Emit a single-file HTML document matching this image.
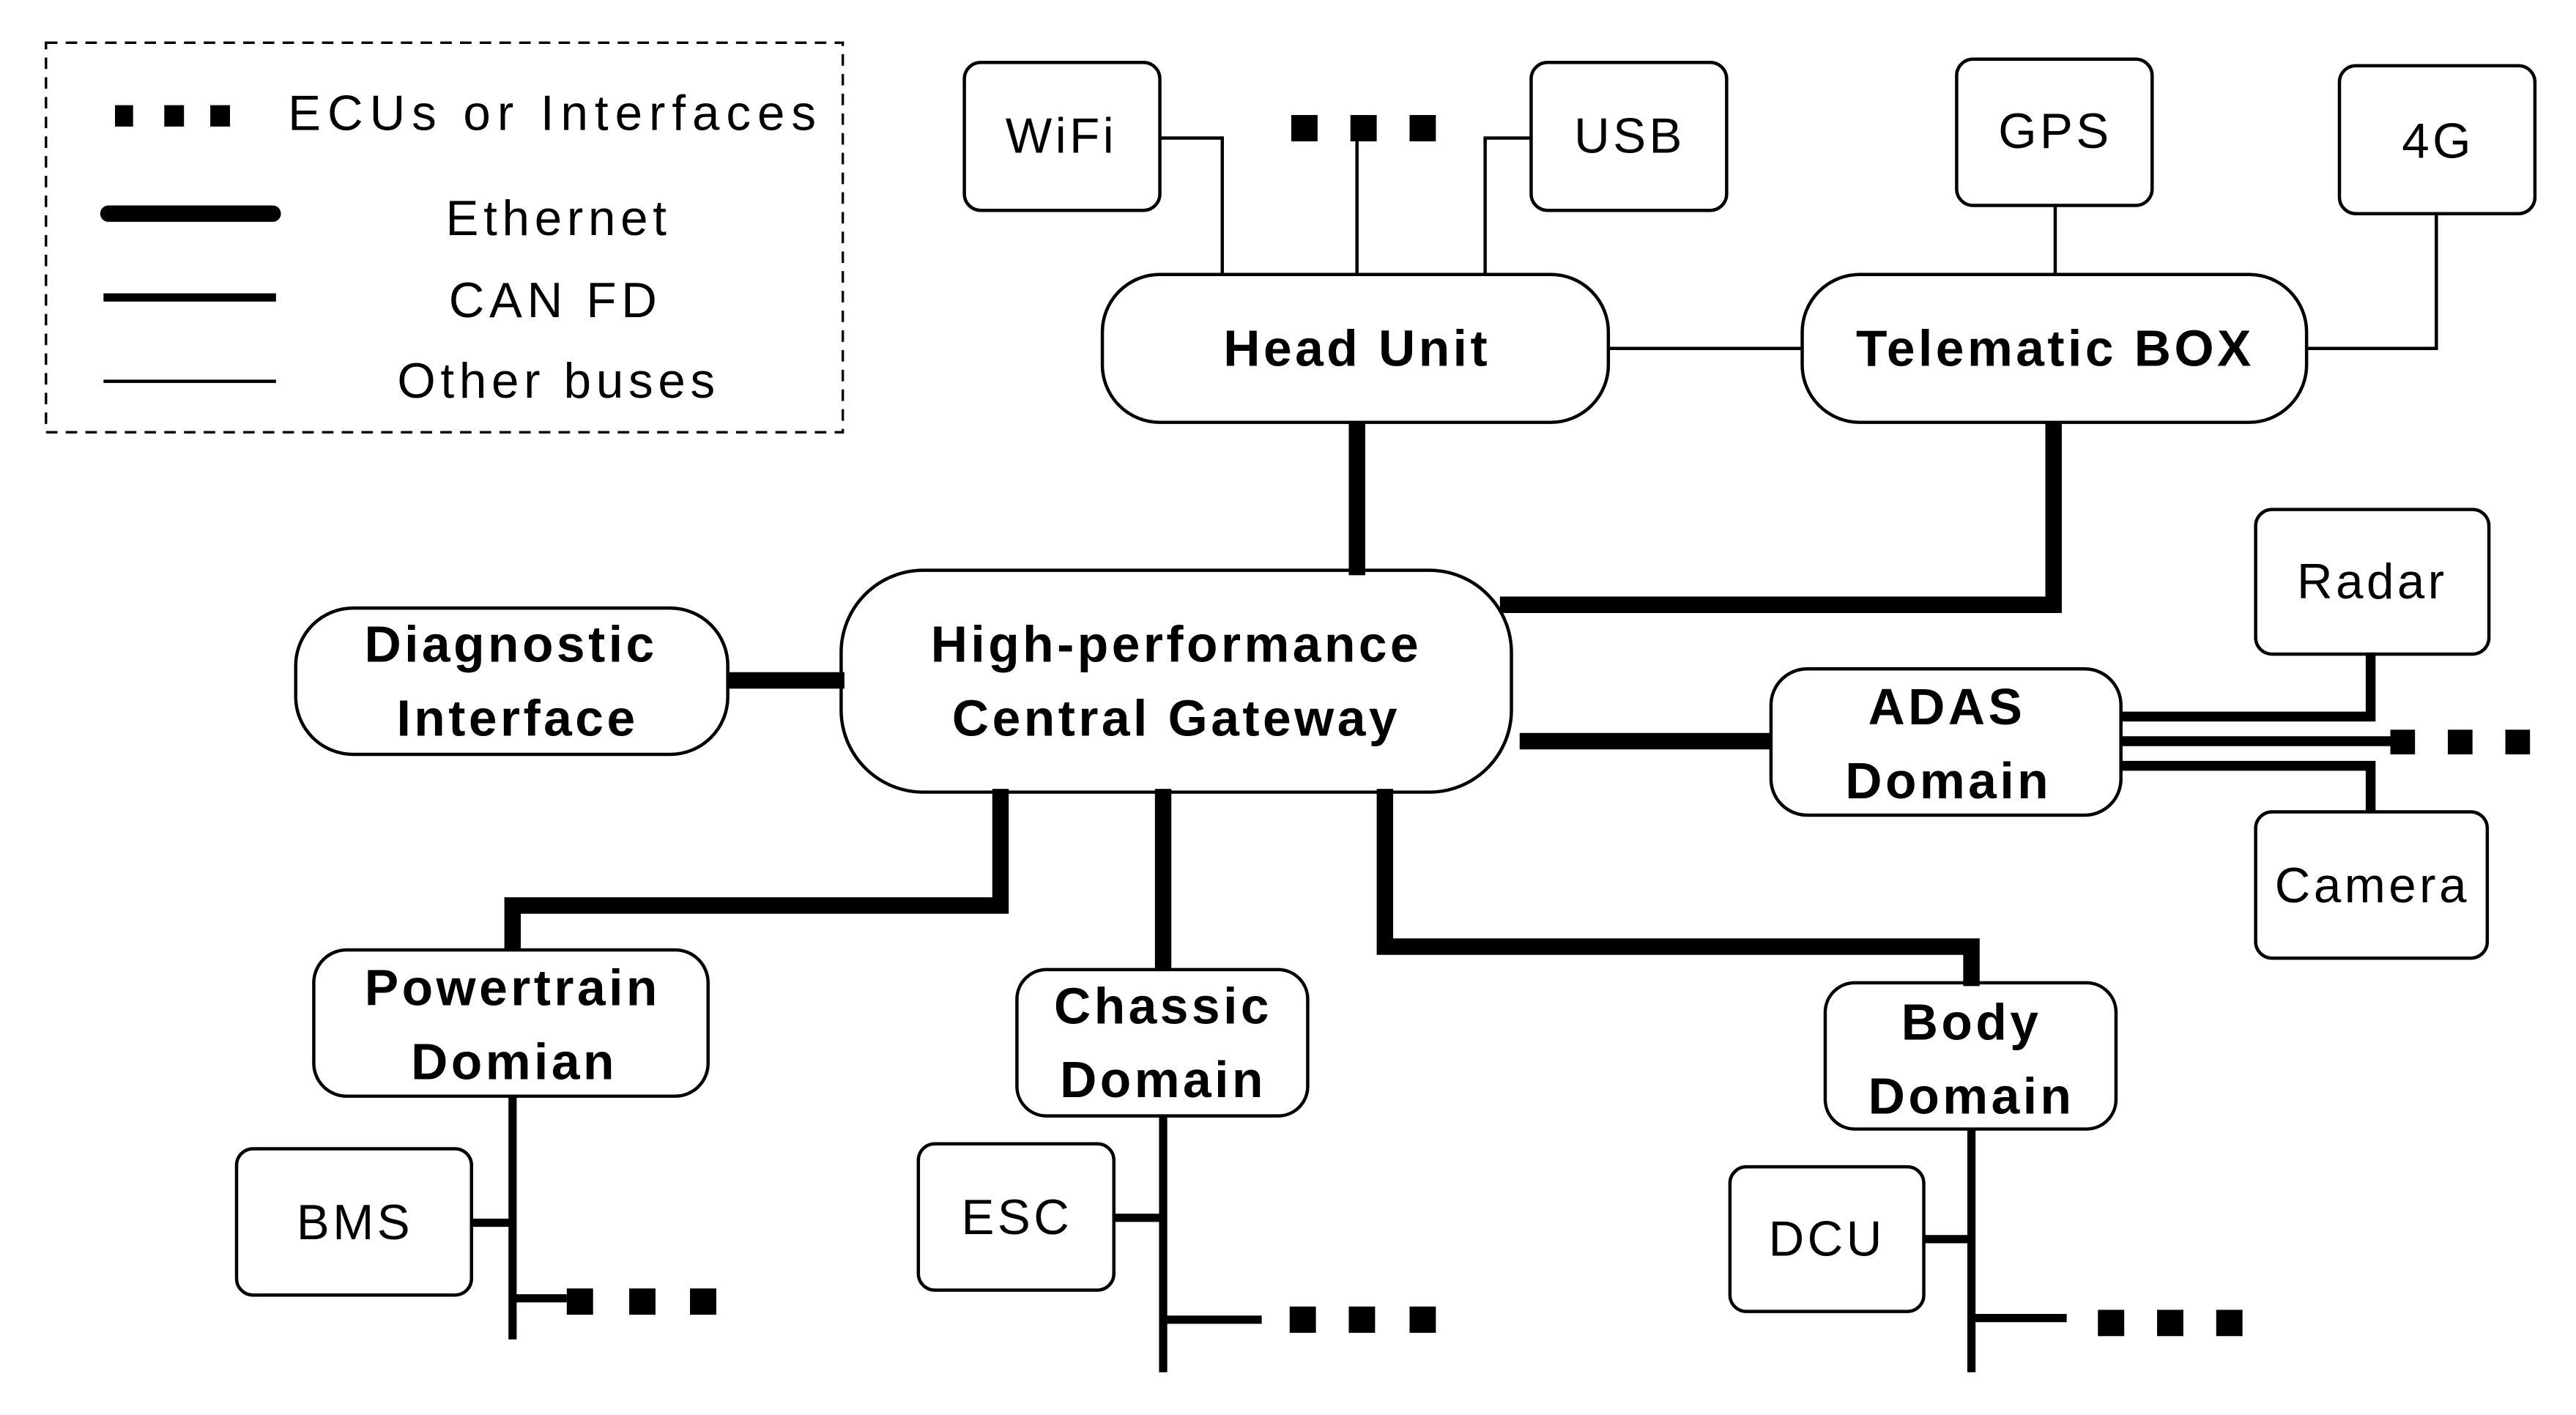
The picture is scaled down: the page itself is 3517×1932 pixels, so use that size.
<!DOCTYPE html>
<html><head><meta charset="utf-8"><style>
html,body{margin:0;padding:0;background:#fff;}
svg{display:block;}
text{font-family:"Liberation Sans","WenQuanYi Zen Hei",sans-serif;fill:#000;text-anchor:middle;dominant-baseline:central;}
.b{font-weight:bold;font-size:31px;letter-spacing:2px;}
.n{font-size:30px;letter-spacing:2px;}
</style></head><body>
<svg width="3517" height="1932" viewBox="0 0 1568 861" preserveAspectRatio="none" xmlns="http://www.w3.org/2000/svg">
<g fill="none" stroke="#000">
<rect x="28" y="26" width="485" height="237" stroke-width="1.5" stroke-dasharray="7,5"/>
<line x1="66" y1="130" x2="166" y2="130" stroke-width="10" stroke-linecap="round"/>
<line x1="63" y1="181" x2="168" y2="181" stroke-width="5"/>
<line x1="63" y1="232" x2="168" y2="232" stroke-width="2"/>
<g stroke-width="2">
<rect x="587" y="38" width="119" height="90" rx="10"/>
<rect x="932" y="38" width="119" height="90" rx="10"/>
<rect x="1191" y="36" width="119" height="89" rx="10"/>
<rect x="1424" y="40" width="119" height="90" rx="10"/>
<rect x="671" y="167" width="308" height="90" rx="35"/>
<rect x="1097" y="167" width="307" height="90" rx="35"/>
<rect x="512" y="347" width="408" height="135" rx="50"/>
<rect x="180" y="370" width="263" height="89" rx="35"/>
<rect x="1078" y="407" width="213" height="89" rx="22"/>
<rect x="1373" y="310" width="142" height="88" rx="10"/>
<rect x="1373" y="494" width="141" height="89" rx="10"/>
<rect x="191" y="578" width="240" height="89" rx="20"/>
<rect x="619" y="590" width="177" height="89" rx="18"/>
<rect x="1111" y="598" width="177" height="89" rx="18"/>
<rect x="144" y="699" width="143" height="89" rx="10"/>
<rect x="559" y="696" width="119" height="89" rx="10"/>
<rect x="1053" y="710" width="118" height="88" rx="10"/>
</g>
<g stroke-width="2">
<polyline points="706,84 744,84 744,167"/>
<line x1="826" y1="78" x2="826" y2="167"/>
<polyline points="932,84 904,84 904,167"/>
<line x1="979" y1="212" x2="1097" y2="212"/>
<line x1="1251" y1="125" x2="1251" y2="167"/>
<polyline points="1483,130 1483,212 1404,212"/>
</g>
<g stroke-width="10">
<line x1="826" y1="257" x2="826" y2="350"/>
<polyline points="1250,257 1250,368 913,368"/>
<line x1="443" y1="414" x2="514" y2="414"/>
<line x1="925" y1="451" x2="1078" y2="451"/>
<polyline points="609,480 609,551 312,551 312,578"/>
<line x1="708" y1="480" x2="708" y2="590"/>
<polyline points="843,480 843,576 1200,576 1200,600"/>
</g>
<g stroke-width="6">
<polyline points="1291,436 1443,436 1443,397"/>
<line x1="1291" y1="451" x2="1458" y2="451"/>
<polyline points="1291,466 1443,466 1443,494"/>
</g>
<g stroke-width="5">
<line x1="312" y1="667" x2="312" y2="815"/>
<line x1="287" y1="744" x2="312" y2="744"/>
<line x1="312" y1="790" x2="345" y2="790"/>
<line x1="708" y1="679" x2="708" y2="835"/>
<line x1="678" y1="741" x2="708" y2="741"/>
<line x1="708" y1="803" x2="768" y2="803"/>
<line x1="1200" y1="687" x2="1200" y2="835"/>
<line x1="1171" y1="754" x2="1200" y2="754"/>
<line x1="1200" y1="802" x2="1258" y2="802"/>
</g>
</g>
<g fill="#000">
<rect x="70" y="64" width="11" height="13"/><rect x="100" y="64" width="12" height="13"/><rect x="128" y="64" width="12" height="13"/>
<rect x="786" y="70" width="16" height="16"/><rect x="822" y="70" width="16" height="16"/><rect x="858" y="70" width="16" height="16"/>
<rect x="1455" y="444" width="15" height="15"/><rect x="1490" y="444" width="15" height="15"/><rect x="1525" y="444" width="15" height="15"/>
<rect x="345" y="784" width="16" height="16"/><rect x="383" y="784" width="16" height="16"/><rect x="420" y="784" width="16" height="16"/>
<rect x="785" y="795" width="16" height="16"/><rect x="821" y="795" width="16" height="16"/><rect x="858" y="795" width="16" height="16"/>
<rect x="1277" y="797" width="16" height="16"/><rect x="1313" y="797" width="16" height="16"/><rect x="1349" y="797" width="16" height="16"/>
</g>
<text class="n" x="338" y="69" style="letter-spacing:4px">ECUs or Interfaces</text>
<text class="n" x="340" y="133" style="letter-spacing:3px">Ethernet</text>
<text class="n" x="338" y="183" style="letter-spacing:3px">CAN FD</text>
<text class="n" x="340" y="232" style="letter-spacing:3px">Other buses</text>
<text class="n" x="646" y="83">WiFi</text>
<text class="n" x="992" y="83">USB</text>
<text class="n" x="1251" y="80">GPS</text>
<text class="n" x="1484" y="86">4G</text>
<text class="b" x="826" y="212">Head Unit</text>
<text class="b" x="1251" y="212">Telematic BOX</text>
<text class="b" x="716" y="392">High-performance</text>
<text class="b" x="716" y="437">Central Gateway</text>
<text class="b" x="311" y="392">Diagnostic</text>
<text class="b" x="315" y="437">Interface</text>
<text class="b" x="1185" y="430">ADAS</text>
<text class="b" x="1186" y="475">Domain</text>
<text class="n" x="1444" y="354">Radar</text>
<text class="n" x="1444" y="539">Camera</text>
<text class="b" x="312" y="601">Powertrain</text>
<text class="b" x="313" y="646">Domian</text>
<text class="b" x="708" y="612">Chassic</text>
<text class="b" x="708" y="657">Domain</text>
<text class="b" x="1200" y="622">Body</text>
<text class="b" x="1200" y="667">Domain</text>
<text class="n" x="216" y="744">BMS</text>
<text class="n" x="619" y="741">ESC</text>
<text class="n" x="1112" y="754">DCU</text>
</svg>
</body></html>
